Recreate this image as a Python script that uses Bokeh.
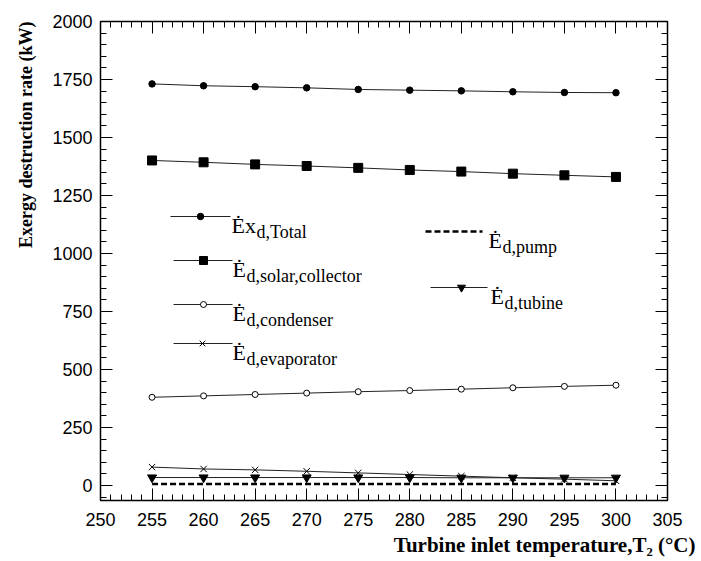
import numpy as np
from bokeh.plotting import figure
from bokeh.models import Range1d, LinearAxis, FixedTicker, Label, Title
from bokeh.embed import file_html
from bokeh.resources import INLINE

# ---------------- data ----------------
temps = [255, 260, 265, 270, 275, 280, 285, 290, 295, 300]
ex_total = [1731, 1723, 1719, 1714, 1707, 1704, 1701, 1697, 1694, 1693]
ed_solar = [1401, 1393, 1384, 1377, 1369, 1360, 1353, 1344, 1337, 1330]
ed_condenser = [380, 386, 392, 398, 404, 409, 415, 421, 427, 432]
ed_evaporator = [79, 71, 67, 61, 54, 47, 40, 33, 27, 20]
ed_turbine = [34, 34, 34, 34, 34, 34, 33, 33, 33, 33]
ed_pump = [6, 6, 6, 6, 6, 6, 6, 6, 6, 6]
x_ticks = [250, 255, 260, 265, 270, 275, 280, 285, 290, 295, 300, 305]
y_ticks = [0, 250, 500, 750, 1000, 1250, 1500, 1750, 2000]

# ---------------- layout ----------------
W, H = 701, 561
FL, FR, FT, FB = 100, 667, 21, 500
X0, X1 = 250, 305
Y0, Y1 = -65, 2000


def dx(px):
    return X0 + (px - FL) / (FR - FL) * (X1 - X0)


def dy(py):
    return Y1 - (py - FT) / (FB - FT) * (Y1 - Y0)


p = figure(width=W, height=H, x_range=Range1d(X0, X1), y_range=Range1d(Y0, Y1),
           output_backend="svg", toolbar_location=None,
           x_axis_type=None, y_axis_type=None,
           min_border_left=FL, min_border_right=W - FR,
           min_border_top=FT, min_border_bottom=H - FB)
p.background_fill_color = "white"
p.border_fill_color = "white"
p.outline_line_color = "black"
p.outline_line_width = 1.5
p.grid.visible = False

x_minor = [v for v in np.arange(250, 306, 1).tolist() if v not in x_ticks]
y_minor = [v for v in np.arange(-50, 2001, 50).tolist() if v not in y_ticks]


def style(ax, ticks, show):
    ax.axis_line_color = None
    ax.major_tick_in = 12
    ax.major_tick_out = 0
    ax.minor_tick_in = 6
    ax.minor_tick_out = 0
    ax.major_tick_line_color = "black"
    ax.minor_tick_line_color = "black"
    ax.major_tick_line_width = 1
    ax.minor_tick_line_width = 1
    ax.major_label_text_font = "Liberation Sans"
    ax.major_label_text_color = "black"
    if show:
        ax.major_label_text_font_size = "18px"
    else:
        ax.major_label_overrides = {t: "" for t in ticks}
        ax.major_label_text_font_size = "1px"
        ax.major_label_standoff = 0


xb = LinearAxis(ticker=FixedTicker(ticks=x_ticks, minor_ticks=x_minor))
style(xb, x_ticks, True)
xb.major_label_standoff = 12
xt = LinearAxis(ticker=FixedTicker(ticks=x_ticks, minor_ticks=x_minor))
style(xt, x_ticks, False)
yl = LinearAxis(ticker=FixedTicker(ticks=y_ticks, minor_ticks=y_minor))
style(yl, y_ticks, True)
yl.major_label_standoff = 8
yr = LinearAxis(ticker=FixedTicker(ticks=y_ticks, minor_ticks=y_minor))
style(yr, y_ticks, False)
p.add_layout(xb, "below")
p.add_layout(xt, "above")
p.add_layout(yl, "left")
p.add_layout(yr, "right")

# ---------------- axis titles ----------------
SERIF = "Liberation Serif"
ytitle = Title(text="Exergy destruction rate (kW)", align="right",
               text_font=SERIF, text_font_style="bold", text_font_size="18px",
               text_color="black", offset=0)
xtitle = Title(text="Turbine inlet temperature,T₂ (°C)", align="right",
               text_font=SERIF, text_font_style="bold", text_font_size="21px",
               text_color="black", offset=-28)
try:
    ytitle.standoff = 27
    xtitle.standoff = 4
except Exception:
    pass
p.add_layout(ytitle, "left")
p.add_layout(xtitle, "below")

# ---------------- series ----------------
LC = "#222222"
p.line(temps, ex_total, line_color=LC, line_width=1)
p.scatter(temps, ex_total, marker="circle", size=6.5, fill_color="black", line_color="black")

p.line(temps, ed_solar, line_color=LC, line_width=1)
p.scatter(temps, ed_solar, marker="square", size=9, fill_color="black", line_color="black")

p.line(temps, ed_condenser, line_color=LC, line_width=1)
p.scatter(temps, ed_condenser, marker="circle", size=6, fill_color="white", line_color="black")

p.line(temps, ed_evaporator, line_color=LC, line_width=1)
p.scatter(temps, ed_evaporator, marker="x", size=9, line_color="black", line_width=1)

p.line(temps, ed_turbine, line_color=LC, line_width=1)
p.scatter(temps, ed_turbine, marker="inverted_triangle", size=9, fill_color="black", line_color="black")

p.line(temps, ed_pump, line_color="black", line_width=2.5, line_dash="6 3")

# ---------------- legend (manual, for subscripts) ----------------


def legend_row(x0, x1, ly, mx, marker, msize, mfill, tx, main, sub, dash=None, lw=1):
    if dash:
        p.segment(x0=[dx(x0)], y0=[dy(ly)], x1=[dx(x1)], y1=[dy(ly)],
                  line_color="black", line_width=lw, line_dash=dash)
    else:
        p.segment(x0=[dx(x0)], y0=[dy(ly)], x1=[dx(x1)], y1=[dy(ly)],
                  line_color=LC, line_width=lw)
    if marker:
        p.scatter([dx(mx)], [dy(ly)], marker=marker, size=msize,
                  fill_color=mfill, line_color="black")
    base = ly + 9
    p.add_layout(Label(x=dx(tx), y=dy(base), text=main, text_font=SERIF,
                       text_font_size="22px", text_color="black",
                       text_align="left", text_baseline="alphabetic"))
    subx = tx + (25 if main == "Ėx" else 14)
    p.add_layout(Label(x=dx(subx), y=dy(base + 6), text=sub, text_font=SERIF,
                       text_font_size="18px", text_color="black",
                       text_align="left", text_baseline="alphabetic"))


legend_row(170, 230, 216, 200, "circle", 6.5, "black", 231, "Ėx", "d,Total")
legend_row(173, 232, 260, 203, "square", 8, "black", 232, "Ė", "d,solar,collector")
legend_row(173, 232, 304, 203, "circle", 6, "white", 232, "Ė", "d,condenser")
legend_row(173, 232, 343, 202, "x", 8, None, 232, "Ė", "d,evaporator")
legend_row(425, 482, 231, None, None, 0, None, 488, "Ė", "d,pump", dash="6 3", lw=2.5)
legend_row(430, 487, 287, 461, "inverted_triangle", 8, "black", 490, "Ė", "d,tubine")

open("out.html", "w").write(file_html(p, INLINE))
